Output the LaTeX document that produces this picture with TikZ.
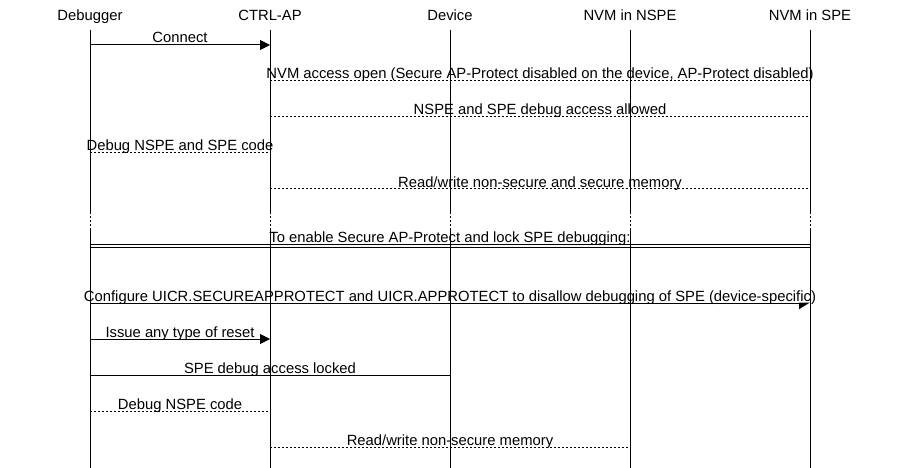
\documentclass[tikz,border=0pt]{standalone}
\usepackage{fontspec}
\setmainfont{Liberation Sans}
\usetikzlibrary{arrows.meta}
\begin{document}
\begin{tikzpicture}[x=1pt,y=-1pt,
  every node/.style={inner sep=0pt, font=\fontsize{14.8}{17}\selectfont},
  life/.style={line width=1pt},
  lifedot/.style={line width=1pt, dash pattern=on 2pt off 2pt},
  msg/.style={line width=1pt},
  rep/.style={line width=1pt, dash pattern=on 2pt off 2pt},
  sync/.style={line width=1pt, -{Triangle[length=10pt,width=10pt]}},
  async/.style={line width=1pt, -{Triangle[harpoon,swap,length=10pt,width=12pt]}},
  lbl/.style={midway, anchor=base, yshift=2pt},
  head/.style={anchor=base}
]
\useasboundingbox (0,0) rectangle (900,468);
% participants
\node[head] (dbg) at (90,21) {Debugger};
\node[head] (ctrl) at (270,21) {CTRL-AP};
\node[head] (dev) at (450,21) {Device};
\node[head] (nspe) at (630,21) {NVM in NSPE};
\node[head] (spe) at (810,21) {NVM in SPE};
% lifelines
\foreach \n/\x in {dbg/90,ctrl/270,dev/450,nspe/630,spe/810}{
  \coordinate (\n-t) at (\x,30);
  \coordinate (\n-a) at (\x,212);
  \coordinate (\n-b) at (\x,230);
  \coordinate (\n-e) at (\x,468);
  \draw[life] (\n-t) -- (\n-a);
  \draw[lifedot] (\n-a) -- (\n-b);
  \draw[life] (\n-b) -- (\n-e);
}
% messages
\coordinate (m1s) at (90,45);  \coordinate (m1e) at (270,45);
\draw[sync] (m1s) -- node[lbl]{Connect} (m1e);
\coordinate (m2s) at (270,81); \coordinate (m2e) at (810,81);
\draw[rep] (m2s) -- node[lbl]{NVM access open (Secure AP-Protect disabled on the device, AP-Protect disabled)} (m2e);
\coordinate (m3s) at (270,117); \coordinate (m3e) at (810,117);
\draw[rep] (m3s) -- node[lbl]{NSPE and SPE debug access allowed} (m3e);
\coordinate (m4s) at (90,153); \coordinate (m4e) at (270,153);
\draw[rep] (m4s) -- node[lbl]{Debug NSPE and SPE code} (m4e);
\coordinate (m5s) at (270,189); \coordinate (m5e) at (810,189);
\draw[rep] (m5s) -- node[lbl]{Read/write non-secure and secure memory} (m5e);
% divider
\coordinate (d1s) at (90,244.5); \coordinate (d1e) at (810,244.5);
\coordinate (d2s) at (90,247.5); \coordinate (d2e) at (810,247.5);
\draw[msg] (d1s) -- node[lbl]{To enable Secure AP-Protect and lock SPE debugging:} (d1e);
\draw[msg] (d2s) -- (d2e);
\coordinate (m6s) at (90,303); \coordinate (m6e) at (810,303);
\draw[async] (m6s) -- node[lbl]{Configure UICR.SECUREAPPROTECT and UICR.APPROTECT to disallow debugging of SPE (device-specific)} (m6e);
\coordinate (m7s) at (90,339); \coordinate (m7e) at (270,339);
\draw[sync] (m7s) -- node[lbl]{Issue any type of reset} (m7e);
\coordinate (m8s) at (90,375); \coordinate (m8e) at (450,375);
\draw[msg] (m8s) -- node[lbl]{SPE debug access locked} (m8e);
\coordinate (m9s) at (90,411); \coordinate (m9e) at (270,411);
\draw[rep] (m9s) -- node[lbl]{Debug NSPE code} (m9e);
\coordinate (m10s) at (270,447); \coordinate (m10e) at (630,447);
\draw[rep] (m10s) -- node[lbl]{Read/write non-secure memory} (m10e);
\end{tikzpicture}
\end{document}
